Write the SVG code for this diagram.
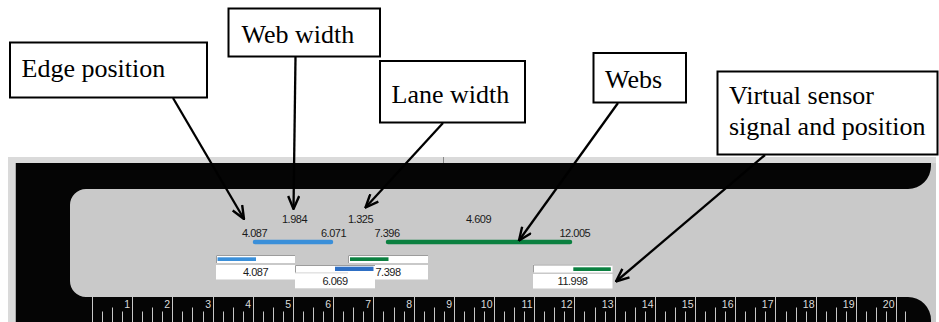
<svg xmlns="http://www.w3.org/2000/svg" width="939" height="322" viewBox="0 0 939 322">
<style>
.callout rect{fill:#fff;stroke:#000;stroke-width:2}
.callout text{font-family:"Liberation Serif","DejaVu Serif",serif;font-size:26px;fill:#000}
.num{font-family:"Liberation Sans",Arial,sans-serif;font-size:11px;letter-spacing:-0.5px;fill:#1a1a1a}
.val{text-anchor:middle}
.rl{font-family:"Liberation Sans",Arial,sans-serif;font-size:10.5px;fill:#dcdcdc;text-anchor:end}
.tick{stroke:#c8c8c8;stroke-width:1;fill:none}
.box{fill:#fff}
.sunk{fill:none;stroke:#9c9c9c;stroke-width:1}
.conn line{stroke:#000;stroke-width:2.3;fill:none}
</style>
<defs>
<marker id="ah" viewBox="0 0 15 13" refX="14" refY="6.5" markerWidth="15" markerHeight="13" markerUnits="userSpaceOnUse" orient="auto">
<path d="M1,1 L14,6.5 L1,12" fill="none" stroke="#000" stroke-width="2.4"/>
</marker>
</defs>
<rect width="939" height="322" fill="#fff"/>
<g id="panel">
<rect x="8" y="157" width="928" height="165" fill="#c9c9c9"/>
<rect x="8" y="157" width="928" height="6" fill="#dadada"/>
<rect x="8" y="157" width="8" height="165" fill="#dadada"/>
<line x1="15.5" y1="163" x2="15.5" y2="322" stroke="#a8a8a8"/>
<line x1="443.5" y1="157" x2="443.5" y2="163" stroke="#888"/>
<path d="M16,163 H931 V166 A23,23 0 0 1 908,189 H86 A16,16 0 0 0 70,205 V281 A16,16 0 0 0 86,297 H908 A23,23 0 0 1 931,320 V322 H16 Z" fill="#050505"/>
</g>
<g id="ruler">
<path class="tick" d="M92.5 297V322M132.5 297V322M172.5 297V322M213.5 297V322M253.5 297V322M293.5 297V322M333.5 297V322M373.5 297V322M414.5 297V322M454.5 297V322M494.5 297V322M534.5 297V322M574.5 297V322M615.5 297V322M655.5 297V322M695.5 297V322M735.5 297V322M775.5 297V322M816.5 297V322M856.5 297V322M896.5 297V322"/>
<path class="tick" d="M112.5 307.5V322M152.5 307.5V322M192.5 307.5V322M233.5 307.5V322M273.5 307.5V322M313.5 307.5V322M353.5 307.5V322M394.5 307.5V322M434.5 307.5V322M474.5 307.5V322M514.5 307.5V322M554.5 307.5V322M595.5 307.5V322M635.5 307.5V322M675.5 307.5V322M715.5 307.5V322M755.5 307.5V322M796.5 307.5V322M836.5 307.5V322M876.5 307.5V322"/>
<path class="tick" d="M102.5 311.5V322M122.5 311.5V322M142.5 311.5V322M162.5 311.5V322M182.5 311.5V322M203.5 311.5V322M223.5 311.5V322M243.5 311.5V322M263.5 311.5V322M283.5 311.5V322M303.5 311.5V322M323.5 311.5V322M343.5 311.5V322M363.5 311.5V322M383.5 311.5V322M404.5 311.5V322M424.5 311.5V322M444.5 311.5V322M464.5 311.5V322M484.5 311.5V322M504.5 311.5V322M524.5 311.5V322M544.5 311.5V322M564.5 311.5V322M584.5 311.5V322M605.5 311.5V322M625.5 311.5V322M645.5 311.5V322M665.5 311.5V322M685.5 311.5V322M705.5 311.5V322M725.5 311.5V322M745.5 311.5V322M765.5 311.5V322M786.5 311.5V322M806.5 311.5V322M826.5 311.5V322M846.5 311.5V322M866.5 311.5V322M886.5 311.5V322M905.5 311.5V322"/>
<text class="rl" x="130" y="308">1</text>
<text class="rl" x="170" y="308">2</text>
<text class="rl" x="211" y="308">3</text>
<text class="rl" x="251" y="308">4</text>
<text class="rl" x="291" y="308">5</text>
<text class="rl" x="331" y="308">6</text>
<text class="rl" x="371" y="308">7</text>
<text class="rl" x="412" y="308">8</text>
<text class="rl" x="452" y="308">9</text>
<text class="rl" x="492.5" y="308">10</text>
<text class="rl" x="532.5" y="308">11</text>
<text class="rl" x="572.5" y="308">12</text>
<text class="rl" x="613.5" y="308">13</text>
<text class="rl" x="653.5" y="308">14</text>
<text class="rl" x="693.5" y="308">15</text>
<text class="rl" x="733.5" y="308">16</text>
<text class="rl" x="773.5" y="308">17</text>
<text class="rl" x="814.5" y="308">18</text>
<text class="rl" x="854.5" y="308">19</text>
<text class="rl" x="894.5" y="308">20</text>
</g>
<g id="measurements">
<text class="num" x="282" y="222.5">1.984</text>
<text class="num" x="348" y="222.5">1.325</text>
<text class="num" x="466" y="222.5">4.609</text>
<text class="num" x="242" y="237">4.087</text>
<text class="num" x="321" y="237">6.071</text>
<text class="num" x="374.5" y="237">7.396</text>
<text class="num" x="559.5" y="237">12.005</text>
<line x1="255" y1="242" x2="331" y2="242" stroke="#3a8fd9" stroke-width="4.5" stroke-linecap="round"/>
<line x1="388" y1="242" x2="570" y2="242" stroke="#0b8040" stroke-width="4.5" stroke-linecap="round"/>
</g>
<g id="sensor1">
<rect class="box" x="216" y="255" width="79" height="8"/>
<path class="sunk" d="M216.5,263 V255.5 H295"/>
<rect x="217.5" y="257.3" width="38.5" height="3.7" fill="#3a8fd9"/>
<rect class="box" x="216" y="265" width="79" height="14.5"/>
<text class="num val" x="255.5" y="276">4.087</text>
</g>
<g id="sensor3">
<rect class="box" x="348" y="255" width="80" height="8"/>
<path class="sunk" d="M348.5,263 V255.5 H428"/>
<rect x="350" y="257.3" width="38.5" height="3.7" fill="#0b8040"/>
<rect class="box" x="348" y="265" width="80" height="14.5"/>
<text class="num val" x="388" y="276">7.398</text>
</g>
<g id="sensor2">
<rect class="box" x="295" y="265" width="80" height="7.5"/>
<path class="sunk" d="M295.5,272.5 V265.5 H375"/>
<rect x="335" y="266.7" width="38.5" height="4.3" fill="#2e6fc4"/>
<rect class="box" x="295" y="273.3" width="80" height="15"/>
<text class="num val" x="335" y="285">6.069</text>
</g>
<g id="sensor4">
<rect class="box" x="533" y="264.5" width="79.5" height="8"/>
<path class="sunk" d="M533.5,272.5 V265 H612.5"/>
<rect x="573.3" y="267.3" width="37.5" height="3.7" fill="#0b8040"/>
<rect class="box" x="533" y="274" width="79.5" height="14.5"/>
<text class="num val" x="572.5" y="285">11.998</text>
</g>
<g id="edge-position" class="callout">
<rect x="10" y="42.5" width="197" height="55"/>
<text x="21.5" y="77">Edge position</text>
</g>
<g id="web-width" class="callout">
<rect x="228.5" y="8.5" width="151.5" height="48"/>
<text x="241.5" y="43">Web width</text>
</g>
<g id="lane-width" class="callout">
<rect x="380" y="61" width="145" height="61.5"/>
<text x="391.5" y="103">Lane width</text>
</g>
<g id="webs" class="callout">
<rect x="593.5" y="53" width="92.5" height="49.5"/>
<text x="605" y="88">Webs</text>
</g>
<g id="virtual-sensor" class="callout">
<rect x="717.5" y="71.5" width="220" height="83"/>
<text x="729" y="104">Virtual sensor</text>
<text x="729" y="135">signal and position</text>
</g>
<g id="connectors" class="conn">
<line x1="173" y1="98" x2="244" y2="219" marker-end="url(#ah)"/>
<line x1="295.5" y1="57" x2="293.5" y2="209" marker-end="url(#ah)"/>
<line x1="443" y1="123" x2="365.5" y2="207.5" marker-end="url(#ah)"/>
<line x1="618" y1="103" x2="519" y2="240.5" marker-end="url(#ah)"/>
<line x1="765" y1="155" x2="616" y2="281.5" marker-end="url(#ah)"/>
</g>
</svg>
